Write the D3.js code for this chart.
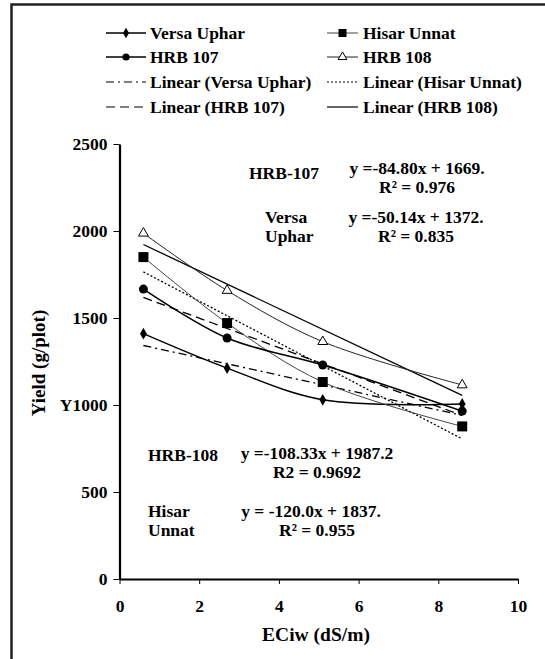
<!DOCTYPE html>
<html>
<head>
<meta charset="utf-8">
<script src="https://cdn.jsdelivr.net/npm/d3@7"></script>
<style>
  body { margin: 0; background: #fff; }
  svg text { font-family: "Liberation Serif", "Times New Roman", Times, serif; font-weight: bold; fill: #000; }
</style>
</head>
<body>
<div id="vis"></div>
<script>
// frame size
const FRAME_WIDTH = 545;
const FRAME_HEIGHT = 659;

// plot area in pixels
const PLOT = {left: 119.5, right: 518, top: 144, bottom: 579};

// data
const ECIW = [0.6, 2.7, 5.1, 8.6];
const SERIES_NAMES = ["Versa Uphar", "Hisar Unnat", "HRB 107", "HRB 108"];
const VERSA_UPHAR = [1410, 1212, 1030, 1006];
const HISAR_UNNAT = [1850, 1471, 1132, 877];
const HRB_107 = [1666, 1385, 1230, 965];
const HRB_108 = [1987, 1658, 1364, 1115];

// fitted lines (slope, intercept) as printed on the chart
const TREND_SLOPES = [-50.14, -120.0, -84.80, -108.33];
const TREND_INTERCEPTS = [1372, 1837, 1669, 1987.2];

const X_TICKS = [0, 2, 4, 6, 8, 10];
const Y_TICKS = [0, 500, 1000, 1500, 2000, 2500];
const Y_TICK_LABELS = ["0", "500", "Y1000", "1500", "2000", "2500"];

const FONT = "17.5px";

const FRAME = d3.select("#vis")
  .append("svg")
  .attr("width", FRAME_WIDTH)
  .attr("height", FRAME_HEIGHT);

// outer border (only left and top are visible)
FRAME.append("rect")
  .attr("x", 11.5).attr("y", 4.5)
  .attr("width", 700).attr("height", 800)
  .attr("fill", "none")
  .attr("stroke", "#222")
  .attr("stroke-width", 2.5);

const X_SCALE = d3.scaleLinear().domain([0, 10]).range([PLOT.left, PLOT.right]);
const Y_SCALE = d3.scaleLinear().domain([0, 2500]).range([PLOT.bottom, PLOT.top]);

// axes
const xAxis = FRAME.append("g")
  .attr("transform", "translate(0," + PLOT.bottom + ")")
  .call(d3.axisBottom(X_SCALE).tickValues(X_TICKS).tickSize(5).tickPadding(16).tickSizeOuter(0));
const yAxis = FRAME.append("g")
  .attr("transform", "translate(" + PLOT.left + ",0)")
  .call(d3.axisLeft(Y_SCALE).tickValues(Y_TICKS).tickSize(6).tickPadding(6).tickSizeOuter(0)
        .tickFormat((d, i) => Y_TICK_LABELS[i]));

[xAxis, yAxis].forEach((ax) => {
  ax.attr("font-family", null);
  ax.select(".domain").attr("stroke", "#000").attr("stroke-width", 2.2);
  ax.selectAll(".tick line").attr("stroke", "#000").attr("stroke-width", 1);
  ax.selectAll("text").attr("font-size", FONT);
});

// axis titles
FRAME.append("text")
  .attr("x", 316).attr("y", 641)
  .attr("text-anchor", "middle")
  .attr("font-size", "19.5px")
  .text("ECiw (dS/m)");
FRAME.append("text")
  .attr("transform", "translate(45,363) rotate(-90)")
  .attr("text-anchor", "middle")
  .attr("font-size", "19px")
  .text("Yield (g/plot)");

// series styling
const SERIES = [
  {values: VERSA_UPHAR, marker: "diamond", width: 1.5, color: "#000", dash: "8,4,2,4"},
  {values: HISAR_UNNAT, marker: "square", width: 1.0, color: "#444", dash: "2,2"},
  {values: HRB_107, marker: "circle", width: 1.5, color: "#000", dash: "9,5"},
  {values: HRB_108, marker: "triangle", width: 1.0, color: "#222", dash: null}
];

const line = d3.line()
  .x((d) => X_SCALE(d[0]))
  .y((d) => Y_SCALE(d[1]))
  .curve(d3.curveCatmullRom.alpha(0.5));

const straight = d3.line()
  .x((d) => X_SCALE(d[0]))
  .y((d) => Y_SCALE(d[1]));

// trend lines
SERIES.forEach((s, i) => {
  const x0 = ECIW[0], x1 = ECIW[ECIW.length - 1];
  const pts = [[x0, TREND_SLOPES[i] * x0 + TREND_INTERCEPTS[i]],
               [x1, TREND_SLOPES[i] * x1 + TREND_INTERCEPTS[i]]];
  FRAME.append("path")
    .attr("d", straight(pts))
    .attr("fill", "none")
    .attr("stroke", "#000")
    .attr("stroke-width", 1.3)
    .attr("stroke-dasharray", s.dash);
});

// data lines
SERIES.forEach((s) => {
  FRAME.append("path")
    .attr("d", line(ECIW.map((x, j) => [x, s.values[j]])))
    .attr("fill", "none")
    .attr("stroke", s.color)
    .attr("stroke-width", s.width);
});

// draws a marker at px, py
function drawMarker(g, type, px, py, small) {
  const k = small ? 0.8 : 1;
  if (type == "diamond") {
    g.append("path")
      .attr("d", d3.symbol(d3.symbolDiamond, 40 * k))
      .attr("transform", "translate(" + px + "," + py + ")")
      .attr("fill", "#000");
  } else if (type == "square") {
    g.append("rect")
      .attr("x", px - 5 * k).attr("y", py - 5 * k)
      .attr("width", 10 * k).attr("height", 10 * k)
      .attr("fill", "#000");
  } else if (type == "circle") {
    g.append("circle")
      .attr("cx", px).attr("cy", py).attr("r", 4.5 * k)
      .attr("fill", "#000");
  } else {
    g.append("path")
      .attr("d", d3.symbol(d3.symbolTriangle, 42 * k))
      .attr("transform", "translate(" + px + "," + py + ")")
      .attr("fill", "#fff")
      .attr("stroke", "#000")
      .attr("stroke-width", 1);
  }
}

SERIES.forEach((s) => {
  ECIW.forEach((x, j) => drawMarker(FRAME, s.marker, X_SCALE(x), Y_SCALE(s.values[j]), false));
});

// legend
const LEGEND_LABELS = ["Versa Uphar", "Hisar Unnat", "HRB 107", "HRB 108",
  "Linear (Versa Uphar)", "Linear (Hisar Unnat)", "Linear (HRB 107)", "Linear (HRB 108)"];
const LEGEND_ROWS = [33, 57, 82, 107];
const LEGEND_COLS = [{x0: 106, x1: 146, tx: 150}, {x0: 327, x1: 358, tx: 363}];

LEGEND_LABELS.forEach((label, i) => {
  const row = LEGEND_ROWS[Math.floor(i / 2)];
  const col = LEGEND_COLS[i % 2];
  const s = SERIES[i % 4];
  const isTrend = i >= 4;
  FRAME.append("line")
    .attr("x1", col.x0).attr("x2", col.x1)
    .attr("y1", row).attr("y2", row)
    .attr("stroke", isTrend ? "#000" : s.color)
    .attr("stroke-width", isTrend ? 1.2 : s.width)
    .attr("stroke-dasharray", isTrend ? s.dash : null);
  if (!isTrend) drawMarker(FRAME, s.marker, (col.x0 + col.x1) / 2, row, true);
  FRAME.append("text")
    .attr("x", col.tx).attr("y", row + 6)
    .attr("font-size", FONT)
    .text(label);
});

// regression annotations
const NOTES = [
  {x: 319, y: 179, anchor: "end", text: "HRB-107"},
  {x: 417, y: 174, anchor: "middle", text: "y =-84.80x + 1669."},
  {x: 417, y: 193, anchor: "middle", text: "R\u00b2 = 0.976"},
  {x: 265, y: 223, anchor: "start", text: "Versa"},
  {x: 265, y: 242, anchor: "start", text: "Uphar"},
  {x: 416, y: 223, anchor: "middle", text: "y =-50.14x + 1372."},
  {x: 416, y: 242, anchor: "middle", text: "R\u00b2 = 0.835"},
  {x: 148, y: 461, anchor: "start", text: "HRB-108"},
  {x: 317, y: 459, anchor: "middle", text: "y =-108.33x + 1987.2"},
  {x: 317, y: 478, anchor: "middle", text: "R2 = 0.9692"},
  {x: 148, y: 517, anchor: "start", text: "Hisar"},
  {x: 148, y: 536, anchor: "start", text: "Unnat"},
  {x: 311, y: 517, anchor: "middle", text: "y = -120.0x + 1837."},
  {x: 317, y: 536, anchor: "middle", text: "R\u00b2 = 0.955"}
];

FRAME.selectAll("text.note")
  .data(NOTES)
  .enter()
  .append("text")
    .attr("class", "note")
    .attr("x", (d) => d.x)
    .attr("y", (d) => d.y)
    .attr("text-anchor", (d) => d.anchor)
    .attr("font-size", FONT)
    .text((d) => d.text);
</script>
</body>
</html>
